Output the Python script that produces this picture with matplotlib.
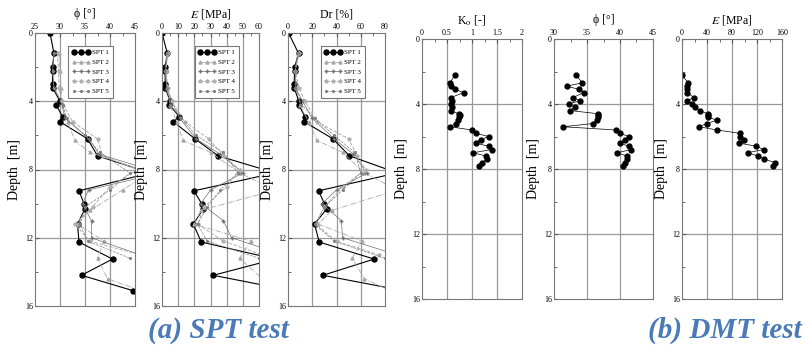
import numpy as np
import matplotlib
matplotlib.use('Agg')
import matplotlib.pyplot as plt

plt.rcParams['font.family'] = ['Liberation Serif', 'DejaVu Serif']
plt.rcParams['mathtext.fontset'] = 'stix'

# ---- SPT data (depth [m] and value per test) ----
spt_names = ['SPT 1', 'SPT 2', 'SPT 3', 'SPT 4', 'SPT 5']

spt1_depth = [0.0, 1.2, 2.0, 2.2, 3.0, 3.2, 4.0, 4.2, 4.9, 5.2, 6.2, 7.2, 8.2,
              9.25, 10.0, 10.3, 11.2, 12.25, 13.25, 14.2, 15.1]
spt1_phi = [28.0, 28.8, 28.5, 28.5, 28.5, 28.5, 30.0, 29.2, 30.5, 30.0, 35.5,
            37.5, 48.0, 33.8, 34.8, 35.0, 33.5, 33.8, 40.5, 34.3, 44.6]
spt1_E = [0.0, 3.3, 1.9, 1.9, 2.0, 2.0, 5.0, 4.5, 10.7, 7.0, 20.4, 34.8, 70.0,
          19.8, 24.5, 25.5, 19.4, 24.3, 70.0, 31.7, 80.0]
spt1_Dr = [0.5, 8.7, 5.5, 5.5, 5.0, 5.0, 9.0, 8.7, 14.0, 13.4, 37.0, 50.7, 90.0,
           25.2, 30.0, 32.0, 21.9, 25.7, 71.0, 28.8, 95.0]

spt2_depth = [1.2, 2.2, 3.2, 4.2, 5.2, 6.3, 7.0, 8.2, 9.2, 10.4, 11.2, 12.2,
              13.2, 14.4, 15.3]
spt2_phi = [29.8, 30.0, 30.2, 30.5, 31.5, 33.0, 36.0, 48.0, 42.5, 36.0, 33.5,
            38.8, 37.5, 39.5, 48.0]
spt2_E = [3.0, 2.5, 3.0, 5.0, 9.0, 13.0, 30.0, 48.0, 70.0, 24.0, 20.0, 55.0,
          48.0, 62.0, 75.0]
spt2_Dr = [8.0, 6.0, 7.0, 10.0, 17.0, 24.0, 45.0, 63.0, 90.0, 36.0, 25.0, 61.0,
           53.0, 63.0, 90.0]

spt3_depth = [1.2, 2.2, 3.2, 4.0, 5.0, 6.2, 7.1, 8.2, 9.2, 10.0, 11.0, 12.0,
              13.0, 14.0]
spt3_phi = [28.8, 28.5, 28.8, 30.2, 31.0, 35.8, 37.8, 50.0, 35.7, 34.5, 36.3,
            36.3, 46.0, 47.0]
spt3_E = [3.5, 2.0, 3.0, 6.0, 11.0, 21.0, 36.0, 50.0, 30.0, 24.0, 38.0, 43.0,
          75.0, 80.0]
spt3_Dr = [9.0, 6.0, 6.0, 12.0, 20.0, 38.0, 54.0, 65.0, 40.0, 28.0, 44.0, 45.0,
           90.0, 95.0]

spt4_depth = [1.2, 2.2, 3.2, 4.0, 5.2, 6.2, 7.2, 8.0, 9.0, 10.2, 11.2, 12.2,
              13.0]
spt4_phi = [29.5, 29.7, 29.8, 30.3, 32.5, 37.5, 38.5, 45.5, 40.0, 36.5, 33.0,
            36.0, 46.0]
spt4_E = [3.5, 2.5, 3.5, 6.0, 14.0, 29.0, 38.0, 48.0, 40.0, 26.0, 22.0, 38.0,
          62.0]
spt4_Dr = [9.0, 6.0, 9.0, 14.0, 24.0, 50.0, 57.0, 64.0, 45.0, 30.0, 23.0, 40.0,
           75.0]

spt5_depth = [1.2, 2.2, 3.2, 4.2, 5.0, 6.0, 7.0, 8.2, 9.2, 10.2, 11.2, 12.2,
              13.2]
spt5_phi = [28.7, 28.6, 28.7, 30.5, 31.3, 35.0, 38.0, 44.0, 40.0, 35.0, 34.0,
            35.5, 44.0]
spt5_E = [3.0, 2.0, 3.0, 5.0, 12.0, 21.0, 38.0, 47.0, 36.0, 28.0, 22.0, 28.0,
          60.0]
spt5_Dr = [8.0, 6.0, 6.0, 11.0, 22.0, 38.0, 55.0, 60.0, 45.0, 30.0, 22.0, 38.0,
           80.0]

# ---- DMT data ----
dmt_depth = [2.2, 2.7, 2.9, 3.1, 3.3, 3.6, 3.8, 4.0, 4.2, 4.4, 4.6, 4.7, 4.8,
             5.0, 5.2, 5.4, 5.6, 5.8, 6.0, 6.2, 6.4, 6.6, 6.8, 7.0, 7.2, 7.4,
             7.6, 7.8]
dmt_K0 = [0.66, 0.56, 0.58, 0.66, 0.83, 0.58, 0.60, 0.57, 0.60, 0.58, 0.73,
          0.75, 0.74, 0.72, 0.68, 0.56, 1.0, 1.07, 1.33, 1.17, 1.07, 1.33, 1.4,
          1.02, 1.28, 1.3, 1.2, 1.13]
dmt_phi = [33.3, 34.3, 31.9, 33.8, 34.5, 32.9, 33.9, 32.2, 33.2, 32.4, 36.7,
           36.7, 36.6, 36.5, 35.9, 31.4, 39.4, 40.0, 41.3, 40.7, 40.0, 41.3,
           41.7, 39.6, 41.0, 41.1, 40.8, 40.4]
dmt_E = [0.0, 9.6, 8.5, 8.5, 8.5, 18.7, 8.5, 16.0, 21.3, 28.3, 41.0, 41.0,
         41.0, 56.0, 39.5, 27.2, 56.0, 92.0, 92.0, 99.7, 90.7, 119.0, 130.7,
         105.0, 122.0, 131.7, 149.0, 146.0]

spt_styles = [
    dict(color='black', marker='o', ms=3.6, ls='-', lw=0.8),
    dict(color='#a8a8a8', marker='^', ms=2.2, ls='-.', lw=0.6),
    dict(color='#707070', marker='+', ms=3.5, ls='-', lw=0.5),
    dict(color='#b0b0b0', marker='*', ms=2.8, ls='--', lw=0.7),
    dict(color='#808080', marker='.', ms=2.5, ls='--', lw=0.5),
]

W, H = 807, 346


def make_axes(fig, px_left, px_right, px_top, px_bottom):
    return fig.add_axes([px_left / W, 1 - px_bottom / H,
                         (px_right - px_left) / W, (px_bottom - px_top) / H])


def style_axes(ax, xlim, xticks, xlabel):
    ax.set_xlim(*xlim)
    ax.set_ylim(16, 0)
    ax.xaxis.tick_top()
    ax.xaxis.set_label_position('top')
    ax.set_xticks(xticks)
    ax.set_xticks([(a + b) / 2 for a, b in zip(xticks[:-1], xticks[1:])],
                  minor=True)
    ax.set_yticks([0, 4, 8, 12, 16])
    ax.set_yticks([2, 6, 10, 14], minor=True)
    ax.tick_params(which='both', direction='in', labelsize=5.8, pad=1.5,
                   color='#555555')
    ax.tick_params(which='major', length=3)
    ax.tick_params(which='minor', length=2)
    for x in xticks[1:-1]:
        ax.axvline(x, color='#999999', lw=0.9, zorder=0)
    for y in [4, 8, 12]:
        ax.axhline(y, color='#999999', lw=0.9, zorder=0)
    for s in ax.spines.values():
        s.set_color('#777777')
        s.set_linewidth(0.8)
    ax.set_xlabel(xlabel, fontsize=8.5, labelpad=4)
    ax.set_ylabel('Depth  [m]', fontsize=10, labelpad=3)


fig = plt.figure(figsize=(W / 100, H / 100), dpi=100)

spt_depths = [spt1_depth, spt2_depth, spt3_depth, spt4_depth, spt5_depth]
spt_panels = [
    ((35, 135), (25, 45), [25, 30, 35, 40, 45], 'ϕ [°]',
     [spt1_phi, spt2_phi, spt3_phi, spt4_phi, spt5_phi]),
    ((162, 259), (0, 60), [0, 10, 20, 30, 40, 50, 60], '$E$ [MPa]',
     [spt1_E, spt2_E, spt3_E, spt4_E, spt5_E]),
    ((288, 385), (0, 80), [0, 20, 40, 60, 80], 'Dr [%]',
     [spt1_Dr, spt2_Dr, spt3_Dr, spt4_Dr, spt5_Dr]),
]
for (xl, xr), xlim, xticks, xlabel, series in spt_panels:
    ax = make_axes(fig, xl, xr, 33, 306)
    style_axes(ax, xlim, xticks, xlabel)
    for name, depth, vals, st in zip(spt_names, spt_depths, series, spt_styles):
        ax.plot(vals, depth, label=name, **st)
    leg = ax.legend(loc='upper left', bbox_to_anchor=(0.30, 0.965),
                    fontsize=5, numpoints=3, handlelength=2.6,
                    handletextpad=0.3, borderpad=0.5, labelspacing=0.55,
                    fancybox=False, framealpha=1)
    leg.get_frame().set_edgecolor('#777777')
    leg.get_frame().set_linewidth(0.8)

dmt_panels = [
    ((422, 522), (0, 2), [0, 0.5, 1, 1.5, 2], 'K$_\\mathrm{o}$ [-]', dmt_K0),
    ((554, 653), (30, 45), [30, 35, 40, 45], 'ϕ [°]', dmt_phi),
    ((682, 782), (0, 160), [0, 40, 80, 120, 160], '$E$ [MPa]', dmt_E),
]
for (xl, xr), xlim, xticks, xlabel, vals in dmt_panels:
    ax = make_axes(fig, xl, xr, 39, 299)
    style_axes(ax, xlim, xticks, xlabel)
    ax.set_xticklabels([f'{t:g}' for t in xticks])
    ax.plot(vals, dmt_depth, color='black', marker='o', ms=3.5, lw=0.5)

cap_kw = dict(fontsize=21, fontweight='bold', fontstyle='italic',
              color='#4a7ab8', ha='center', va='center',
              family=['Liberation Serif', 'DejaVu Serif'])
fig.text(218 / W, 1 - 330 / H, '(a) SPT test', **cap_kw)
fig.text(725 / W, 1 - 330 / H, '(b) DMT test', **cap_kw)

fig.savefig('out.png', dpi=100)
